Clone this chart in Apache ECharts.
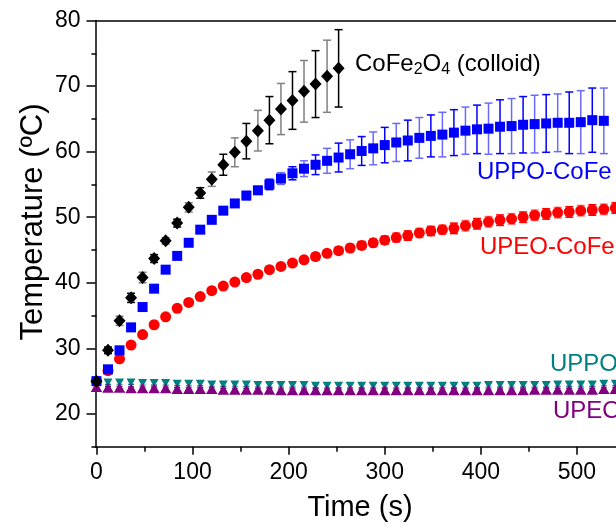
<!DOCTYPE html>
<html>
<head>
<meta charset="utf-8">
<script src="https://cdn.jsdelivr.net/npm/echarts@6/dist/echarts.min.js"></script>
<style>
html,body{margin:0;padding:0;background:#fff;}
#chart{width:616px;height:527px;}
</style>
</head>
<body>
<div id="chart"></div>
<script>
// ---- data (time in s, temperature in ºC) ----
var times = [0,12,24,36,48,60,72,84,96,108,120,132,144,156,168,180,192,204,216,228,240,252,264,276,288,300,312,324,336,348,360,372,384,396,408,420,432,444,456,468,480,492,504,516,528,540,552,564,576,588,600];

var colloid = [25.0,29.7,34.2,37.7,40.8,43.7,46.4,49.1,51.5,53.7,55.8,58.0,59.9,61.6,63.2,64.8,66.5,67.8,69.2,70.3,71.5,72.7];
var colloidErr = [0.3,0.5,0.7,0.7,0.8,0.6,0.5,0.6,0.7,0.8,1.1,1.6,2.2,2.7,3.1,3.6,3.9,4.4,4.7,5.1,5.5,5.9];

var uppoCoFe = [25.0,26.8,29.7,33.2,36.3,39.1,42.0,44.1,46.1,48.1,49.6,51.0,52.1,53.3,54.1,55.0,55.9,56.7,57.4,58.0,58.6,59.1,59.6,60.1,60.5,61.0,61.4,61.7,62.1,62.4,62.6,62.9,63.2,63.4,63.5,63.8,63.9,64.1,64.2,64.3,64.4,64.4,64.5,64.8,64.7];
var uppoCoFeErr = [0.2,0.4,0.4,0.4,0.4,0.4,0.4,0.4,0.4,0.4,0.5,0.5,0.5,0.6,0.6,0.8,0.9,1.0,1.2,1.5,1.9,2.2,2.2,2.2,2.5,2.7,2.9,3.1,3.1,3.2,3.4,3.5,3.6,3.7,3.9,4.1,4.2,4.3,4.4,4.4,4.4,4.7,4.8,4.9,5.0];

var upeoCoFe = [25.0,26.6,28.4,30.5,32.1,33.6,34.8,36.1,37.0,37.9,38.8,39.5,40.1,40.8,41.3,42.0,42.5,43.0,43.5,44.0,44.5,44.9,45.3,45.7,46.1,46.5,46.9,47.2,47.6,47.9,48.1,48.3,48.7,49.0,49.3,49.55,49.75,50.0,50.3,50.5,50.7,50.8,51.0,51.1,51.2,51.4];
var upeoCoFeErr = [0.2,0.3,0.3,0.3,0.3,0.3,0.3,0.3,0.3,0.3,0.3,0.3,0.4,0.4,0.4,0.4,0.4,0.4,0.5,0.5,0.5,0.5,0.6,0.6,0.6,0.6,0.7,0.7,0.7,0.7,0.7,0.8,0.8,0.8,0.8,0.8,0.8,0.8,0.8,0.8,0.8,0.8,0.8,0.8,0.8,0.8];

var uppo = [24.9,24.8,24.8,24.8,24.7,24.7,24.7,24.6,24.6,24.6,24.5,24.5,24.5,24.5,24.4,24.4,24.4,24.4,24.4,24.3,24.3,24.3,24.3,24.3,24.3,24.3,24.3,24.3,24.3,24.3,24.3,24.3,24.3,24.3,24.4,24.4,24.4,24.4,24.4,24.4,24.5,24.5,24.5,24.5,24.6,24.6,24.6,24.6,24.7,24.7,24.7];
var uppoErr = [0.3,0.3,0.3,0.3,0.3,0.3,0.3,0.3,0.3,0.3,0.3,0.3,0.3,0.3,0.3,0.3,0.3,0.3,0.3,0.3,0.3,0.3,0.3,0.3,0.3,0.3,0.3,0.3,0.3,0.3,0.3,0.3,0.3,0.3,0.3,0.3,0.3,0.3,0.3,0.3,0.3,0.3,0.3,0.3,0.3,0.3,0.3,0.3,0.3,0.3,0.3];

var upeo = [24.1,24.0,24.0,23.9,23.9,23.9,23.9,23.8,23.8,23.8,23.8,23.7,23.7,23.7,23.7,23.7,23.6,23.6,23.6,23.6,23.6,23.6,23.6,23.6,23.6,23.6,23.6,23.6,23.6,23.6,23.6,23.6,23.6,23.6,23.6,23.6,23.6,23.6,23.7,23.7,23.7,23.7,23.7,23.7,23.8,23.8,23.8,23.8,23.8,23.8,23.8];
var upeoErr = [0.2,0.2,0.2,0.2,0.2,0.2,0.2,0.2,0.2,0.2,0.2,0.2,0.2,0.2,0.2,0.2,0.2,0.2,0.2,0.2,0.2,0.2,0.2,0.2,0.2,0.2,0.2,0.2,0.2,0.2,0.2,0.2,0.2,0.2,0.2,0.2,0.2,0.2,0.2,0.2,0.2,0.2,0.2,0.2,0.2,0.2,0.2,0.2,0.2,0.2,0.2];

var xMajorTicks = [0,100,200,300,400,500,600];
var xMinorTicks = [50,150,250,350,450,550];
var yMajorTicks = [20,30,40,50,60,70,80];
var yMinorTicks = [15,25,35,45,55,65,75];

// ---- helpers ----
var FONT = '"Liberation Sans", Arial, sans-serif';

function pts(vals) {
  return vals.map(function (v, i) { return [times[i], v]; });
}
function errData(vals, errs) {
  return vals.map(function (v, i) { return [times[i], v - errs[i], v + errs[i], i]; });
}
function errSeries(vals, errs, dark, light, capHalf, z) {
  return {
    type: 'custom',
    z: z,
    data: errData(vals, errs),
    renderItem: function (params, api) {
      var x = api.value(0), lo = api.value(1), hi = api.value(2), idx = api.value(3);
      var a = api.coord([x, hi]);
      var b = api.coord([x, lo]);
      var col = (idx % 2 === 1) ? dark : light;
      var st = { stroke: col, lineWidth: 1.5 };
      return {
        type: 'group',
        children: [
          { type: 'line', shape: { x1: a[0], y1: a[1], x2: b[0], y2: b[1] }, style: st },
          { type: 'line', shape: { x1: a[0] - capHalf, y1: a[1], x2: a[0] + capHalf, y2: a[1] }, style: st },
          { type: 'line', shape: { x1: b[0] - capHalf, y1: b[1], x2: b[0] + capHalf, y2: b[1] }, style: st }
        ]
      };
    }
  };
}

var axisLineStyle = { color: '#000', width: 1.5 };

var option = {
  animation: false,
  backgroundColor: '#fff',
  grid: { left: 95.5, right: -57, top: 20.5, bottom: 80.3, outerBoundsMode: 'none' },
  xAxis: [
    {
      type: 'value', min: -1, max: 600, position: 'bottom',
      axisLine: { show: true, lineStyle: axisLineStyle, onZero: false },
      axisTick: { show: true, inside: false, length: 8, lineStyle: axisLineStyle, customValues: xMajorTicks },
      axisLabel: { show: true, customValues: xMajorTicks, fontSize: 23, fontFamily: FONT, color: '#000', margin: 14 },
      splitLine: { show: false }
    },
    {
      type: 'value', min: -1, max: 600, position: 'bottom',
      axisLine: { show: false },
      axisTick: { show: true, inside: false, length: 5, lineStyle: axisLineStyle, customValues: xMinorTicks },
      axisLabel: { show: false },
      splitLine: { show: false }
    },
    {
      type: 'value', min: -1, max: 600, position: 'top',
      axisLine: { show: true, lineStyle: axisLineStyle },
      axisTick: { show: false },
      axisLabel: { show: false },
      splitLine: { show: false }
    }
  ],
  yAxis: [
    {
      type: 'value', min: 15, max: 80, position: 'left',
      axisLine: { show: true, lineStyle: axisLineStyle, onZero: false },
      axisTick: { show: true, inside: false, length: 9, lineStyle: axisLineStyle, customValues: yMajorTicks },
      axisLabel: { show: true, customValues: yMajorTicks, fontSize: 23, fontFamily: FONT, color: '#000', margin: 15 },
      splitLine: { show: false }
    },
    {
      type: 'value', min: 15, max: 80, position: 'left',
      axisLine: { show: false },
      axisTick: { show: true, inside: false, length: 5, lineStyle: axisLineStyle, customValues: yMinorTicks },
      axisLabel: { show: false },
      splitLine: { show: false }
    }
  ],
  graphic: [
    { type: 'text', x: 33, y: 222, rotation: Math.PI / 2,
      style: { text: 'Temperature (ºC)', fontSize: 31, fontFamily: FONT, fill: '#000', align: 'center', verticalAlign: 'middle' } },
    { type: 'text', x: 360, y: 508,
      style: { text: 'Time (s)', fontSize: 29, fontFamily: FONT, fill: '#000', align: 'center', verticalAlign: 'middle' } },
    { type: 'text', x: 355, y: 64,
      style: {
        text: '{n|CoFe}{s|2}{n|O}{s|4}{n| (colloid)}',
        fill: '#000', align: 'left', verticalAlign: 'middle',
        rich: {
          n: { fontSize: 24, fontFamily: FONT, lineHeight: 28, fill: '#000' },
          s: { fontSize: 16, fontFamily: FONT, lineHeight: 10, verticalAlign: 'bottom', fill: '#000' }
        }
      } },
    { type: 'text', x: 477, y: 172,
      style: { text: 'UPPO-CoFe', fontSize: 24, fontFamily: FONT, fill: '#0000ff', align: 'left', verticalAlign: 'middle' } },
    { type: 'text', x: 480, y: 247,
      style: { text: 'UPEO-CoFe', fontSize: 24, fontFamily: FONT, fill: '#ff0000', align: 'left', verticalAlign: 'middle' } },
    { type: 'text', x: 550, y: 364,
      style: { text: 'UPPO', fontSize: 24, fontFamily: FONT, fill: '#008080', align: 'left', verticalAlign: 'middle' } },
    { type: 'text', x: 553, y: 411,
      style: { text: 'UPEO', fontSize: 24, fontFamily: FONT, fill: '#800080', align: 'left', verticalAlign: 'middle' } }
  ],
  series: [
    errSeries(upeoCoFe, upeoCoFeErr, '#ff0000', '#ff7070', 4, 2),
    errSeries(uppoCoFe, uppoCoFeErr, '#0000ff', '#6a6aff', 4, 2),
    errSeries(colloid, colloidErr, '#000000', '#808080', 4, 2),
    errSeries(uppo, uppoErr, '#008080', '#40a0a0', 3, 2),
    { type: 'scatter', name: 'UPPO', data: pts(uppo), symbol: 'triangle', symbolRotate: 180, symbolSize: [9, 8],
      itemStyle: { color: '#008080', opacity: 1 }, z: 3 },
    errSeries(upeo, upeoErr, '#800080', '#a040a0', 3, 3),
    { type: 'scatter', name: 'UPEO', data: pts(upeo), symbol: 'triangle', symbolSize: [11.5, 10],
      itemStyle: { color: '#800080', opacity: 1 }, z: 4 },
    { type: 'scatter', name: 'UPEO-CoFe', data: pts(upeoCoFe), symbol: 'circle', symbolSize: 11,
      itemStyle: { color: '#ff0000', opacity: 1 }, z: 5 },
    { type: 'scatter', name: 'UPPO-CoFe', data: pts(uppoCoFe), symbol: 'rect', symbolSize: 10,
      itemStyle: { color: '#0000ff', opacity: 1 }, z: 5 },
    { type: 'scatter', name: 'CoFe2O4 (colloid)', data: pts(colloid), symbol: 'diamond', symbolSize: [12, 13],
      itemStyle: { color: '#000000', opacity: 1 }, z: 6 }
  ]
};

var chart = echarts.init(document.getElementById('chart'), null, { renderer: 'canvas' });
chart.setOption(option);
</script>
</body>
</html>
